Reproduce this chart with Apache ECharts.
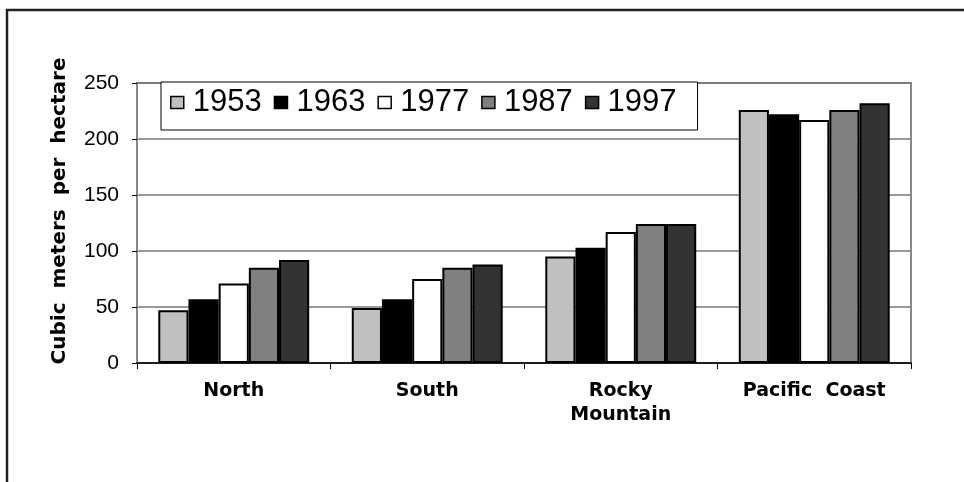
<!DOCTYPE html>
<html>
<head>
<meta charset="utf-8">
<script src="https://cdn.jsdelivr.net/npm/echarts@6/dist/echarts.min.js"></script>
<style>
html,body{margin:0;padding:0;background:#fff;}
#chart{width:964px;height:482px;}
</style>
</head>
<body>
<div id="chart"></div>
<script>
const categories = ['North', 'South', 'Rocky\nMountain', 'Pacific  Coast'];
const years = ['1953', '1963', '1977', '1987', '1997'];
const v1953 = [47, 49, 95, 226];
const v1963 = [57, 57, 103, 222];
const v1977 = [71, 75, 117, 217];
const v1987 = [85, 85, 124, 226];
const v1997 = [92, 88, 124, 232];
const yTicks = [0, 50, 100, 150, 200, 250];
const yTitle = 'Cubic  meters  per  hectare';

const seriesValues = [v1953, v1963, v1977, v1987, v1997];
const colors = ['#c0c0c0', '#000000', '#ffffff', '#808080', '#333333'];

const chart = echarts.init(document.getElementById('chart'), null, {renderer: 'canvas'});
chart.setOption({
  animation: false,
  backgroundColor: '#fff',
  graphic: [
    {type: 'rect', shape: {x: 7, y: 10, width: 1000, height: 600},
     style: {fill: 'none', stroke: '#222', lineWidth: 2.5}, z: 0},
    {type: 'text', x: 60, y: 211, rotation: Math.PI / 2,
     style: {text: yTitle, font: 'bold 20px "DejaVu Sans"', fill: '#000',
             textAlign: 'center', textVerticalAlign: 'middle'}}
  ],
  grid: {left: 137, right: 53, top: 83, bottom: 119, show: true,
         borderColor: '#888', borderWidth: 2, backgroundColor: 'transparent'},
  legend: {
    data: years, left: 161, top: 82, orient: 'horizontal',
    itemWidth: 13, itemHeight: 12, itemGap: 12,
    padding: [5, 21, 12, 9],
    backgroundColor: '#fff', borderColor: '#000', borderWidth: 1,
    icon: 'rect',
    itemStyle: {borderColor: '#000', borderWidth: 1.5},
    textStyle: {fontSize: 31, fontFamily: 'Liberation Sans', color: '#000', padding: [0, 0, 0, 4]}
  },
  xAxis: {
    type: 'category', data: categories,
    axisLine: {lineStyle: {color: '#000', width: 1.5}},
    axisTick: {show: true, interval: 0, length: 6, lineStyle: {color: '#000'}},
    axisLabel: {interval: 0, margin: 16, fontSize: 19, fontWeight: 'bold',
                fontFamily: 'DejaVu Sans', color: '#000', lineHeight: 24}
  },
  yAxis: {
    type: 'value', min: yTicks[0], max: yTicks[yTicks.length - 1], interval: 50,
    axisLine: {show: true, lineStyle: {color: '#888', width: 2}},
    axisTick: {show: true, length: 5, lineStyle: {color: '#000'}},
    axisLabel: {fontSize: 21, fontFamily: 'Liberation Sans', color: '#000', margin: 18},
    splitLine: {lineStyle: {color: '#777', width: 1.5}}
  },
  series: years.map((y, i) => ({
    name: y, type: 'bar', data: seriesValues[i],
    barGap: '0%', barCategoryGap: '22%',
    itemStyle: {color: colors[i], borderColor: '#000', borderWidth: 2}
  }))
});
</script>
</body>
</html>
